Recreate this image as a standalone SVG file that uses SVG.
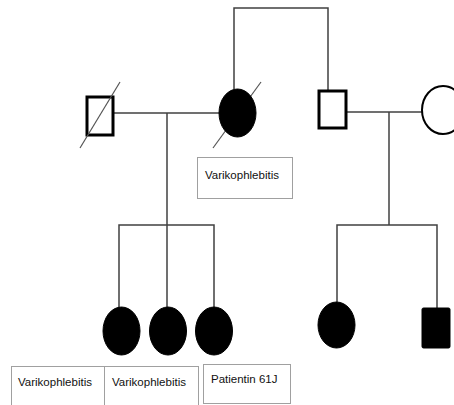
<svg xmlns="http://www.w3.org/2000/svg" width="454" height="405" viewBox="0 0 454 405">
  <style>
    .line { stroke: #404040; stroke-width: 1.5; fill: none; }
    .slash { stroke: #555; stroke-width: 1.2; }
    .male { fill: #fff; stroke: #000; stroke-width: 3; }
    .female { fill: #fff; stroke: #000; stroke-width: 2; }
    .affected { fill: #000; stroke: #000; stroke-width: 1; }
    .label { fill: #fff; stroke: #a0a0a0; stroke-width: 1; }
    .txt { font-family: "Liberation Sans", Arial, sans-serif; font-size: 11.5px; fill: #111; }
  </style>
  <rect width="454" height="405" fill="#fff"/>

  <g id="connectors">
    <!-- sibling line of the two parents -->
    <polyline class="line" points="234,89 234,8 328,8 328,90"/>
    <!-- left couple -->
    <line class="line" x1="113" y1="113" x2="219" y2="113"/>
    <line class="line" x1="167" y1="113" x2="167" y2="225"/>
    <polyline class="line" points="119,308 119,225 214,225 214,308"/>
    <line class="line" x1="167" y1="225" x2="167" y2="308"/>
    <!-- right couple -->
    <line class="line" x1="346" y1="112" x2="422" y2="112"/>
    <line class="line" x1="389" y1="112" x2="389" y2="225"/>
    <polyline class="line" points="337,302 337,225 437,225 437,308"/>
  </g>

  <g id="grandfather">
    <rect class="male" x="87" y="97" width="26" height="38"/>
    <line class="slash" x1="80" y1="148" x2="120" y2="82"/>
  </g>

  <g id="grandmother">
    <line class="slash" x1="213" y1="148" x2="261" y2="82"/>
    <ellipse class="affected" cx="237.5" cy="113" rx="18.5" ry="24"/>
  </g>

  <g id="label-grandmother">
    <rect class="label" x="197.5" y="157.5" width="95" height="41"/>
    <text class="txt" x="205" y="179">Varikophlebitis</text>
  </g>

  <g id="uncle">
    <rect class="male" x="319" y="91" width="27" height="37"/>
  </g>

  <g id="aunt">
    <ellipse class="female" cx="443" cy="110" rx="21" ry="24"/>
  </g>

  <g id="daughter1">
    <ellipse class="affected" cx="121.5" cy="331" rx="18.5" ry="24"/>
  </g>
  <g id="daughter2">
    <ellipse class="affected" cx="168" cy="331" rx="18.5" ry="24"/>
  </g>
  <g id="daughter3">
    <ellipse class="affected" cx="214" cy="331" rx="18.5" ry="24"/>
  </g>

  <g id="cousin-female">
    <ellipse class="affected" cx="336.5" cy="325" rx="18.5" ry="23"/>
  </g>
  <g id="cousin-male">
    <rect class="affected" x="422" y="308" width="28" height="40" rx="1.5"/>
  </g>

  <g id="label-daughter1">
    <rect class="label" x="11.5" y="366.5" width="93" height="40"/>
    <text class="txt" x="18" y="386">Varikophlebitis</text>
  </g>
  <g id="label-daughter2">
    <rect class="label" x="104.5" y="366.5" width="94" height="40"/>
    <text class="txt" x="112" y="386">Varikophlebitis</text>
  </g>
  <g id="label-patient">
    <rect class="label" x="203.5" y="364.5" width="87" height="39"/>
    <text class="txt" x="211" y="383">Patientin 61J</text>
  </g>
</svg>
